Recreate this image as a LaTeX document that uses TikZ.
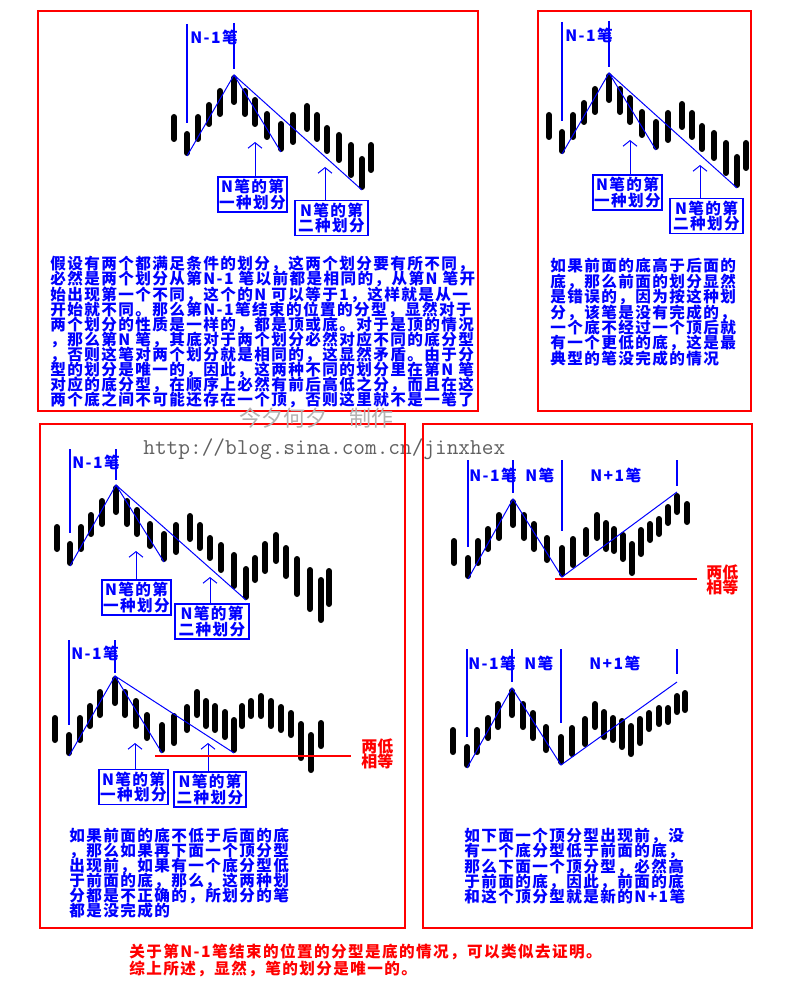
\documentclass[tikz,border=0pt]{standalone}
\usepackage{fontspec}
\usepackage{tikz}
\usetikzlibrary{arrows.meta}

\newfontfamily\cjk[LetterSpace=9.0]{Noto Sans CJK SC}
\newfontfamily\cjkplain{Noto Sans CJK SC}
\definecolor{penblue}{RGB}{0,0,255}
\definecolor{framered}{RGB}{255,0,0}
\newcommand{\tightlines}{\lineskiplimit=-20pt\relax}

\tikzset{
  redframe/.style={draw=framered, line width=0.6pt},
  kbar/.style={line width=2.9pt, line cap=round, shorten <=1.45pt, shorten >=1.45pt},
  penline/.style={draw=penblue, line width=0.5pt},
  penmark/.style={draw=penblue, line width=0.55pt},
  penlabel/.style={text=penblue, inner sep=0pt, anchor=west, font=\cjk\bfseries\fontsize{7.8pt}{7.55pt}\selectfont},
  splitbox/.style={draw=penblue, line width=0.6pt, text=penblue, align=center, inner sep=0pt,
    minimum height=17.5pt, font=\cjk\bfseries\fontsize{7.8pt}{7.6pt}\selectfont\tightlines},
  uparrow/.style={draw=penblue, line width=0.5pt, -{Straight Barb[length=2.8pt,width=7pt]}},
  prose/.style={text=penblue, align=left, anchor=north west, inner sep=0pt,
    font=\cjk\bfseries\fontsize{7.8pt}{#1}\selectfont\tightlines},
  prose/.default=7.55pt,
  levelline/.style={draw=framered, line width=0.7pt},
  redtag/.style={text=framered, align=left, anchor=west, inner sep=0pt,
    font=\cjkplain\bfseries\fontsize{8pt}{7.5pt}\selectfont\tightlines}
}

% the chart of the top row (drawn twice)
\newcommand{\firstcase}{%
  \foreach \x/\t/\b in {174/114/142, 187/131/156, 198/114/142, 209/102/127, 220/88/117, 234/75/105,
      245/88/117, 255/97/127, 267/111/140, 281/121/152, 293/112/145, 307/103/132, 317/112/142,
      327/125/154, 339/132/163, 351/142/178, 362/156/190, 371/142/173}
    \draw[kbar] (\x,\t) -- (\x,\b);
  \coordinate (low) at (187,156);
  \coordinate (top) at (234,75);
  \coordinate (end1) at (281,152);
  \coordinate (end2) at (362,190);
  \draw[penline] (low) -- (top) -- (end1);
  \draw[penline] (top) -- (end2);
  \draw[penmark] (187,24) -- (187,123);
  \draw[penmark] (234,23) -- (234,69);
  \node[penlabel] (pen) at (190,37) {N-1笔};
  \node[splitbox, minimum width=34.5pt] (s1) at (252.5,194.5) {N笔的第\\一种划分};
  \node[splitbox, minimum width=36.5pt] (s2) at (331.5,218) {N笔的第\\二种划分};
  \coordinate (t1) at (255,142);
  \coordinate (t2) at (325,167);
  \draw[uparrow] (s1.north -| t1) -- (t1);
  \draw[uparrow] (s2.north -| t2) -- (t2);
}

\begin{document}
\begin{tikzpicture}[x=0.5pt, y=-0.5pt]
\fill[white] (0,0) rectangle (798,989);
\useasboundingbox (0,0) rectangle (798,989);

% watermark
\node[anchor=west, inner sep=0pt, text=black!62, font=\ttfamily\fontsize{11.33pt}{12pt}\selectfont]
  (url) at (143,449) {http://blog.sina.com.cn/jinxhex};

% top left
\begin{scope}[name prefix=A-]
  \firstcase
\end{scope}
\node[prose] (A-text) at (50,256) {假设有两个都满足条件的划分，这两个划分要有所不同，\\
必然是两个划分从第N-1 笔以前都是相同的，从第N 笔开\\
始出现第一个不同，这个的N 可以等于1，这样就是从一\\
开始就不同。那么第N-1笔结束的位置的分型，显然对于\\
两个划分的性质是一样的，都是顶或底。对于是顶的情况\\
，那么第N 笔，其底对于两个划分必然对应不同的底分型\\
，否则这笔对两个划分就是相同的，这显然矛盾。由于分\\
型的划分是唯一的，因此，这两种不同的划分里在第N 笔\\
对应的底分型，在顺序上必然有前后高低之分，而且在这\\
两个底之间不可能还存在一个顶，否则这里就不是一笔了};
\draw[redframe] (38,11) rectangle (478,411);

% top right
\begin{scope}[shift={(375,-2)}, name prefix=B-]
  \firstcase
\end{scope}
\node[prose=7.7pt] (B-text) at (550,258) {如果前面的底高于后面的\\
底，那么前面的划分显然\\
是错误的，因为按这种划\\
分，该笔是没有完成的，\\
一个底不经过一个顶后就\\
有一个更低的底，这是最\\
典型的笔没完成的情况};
\draw[redframe] (538,11) rectangle (751,411);

% bottom left, upper chart
\foreach \x/\t/\b in {57/524/552, 70/541/566, 81/524/552, 91/512/537, 102/498/527, 116/485/515,
    127/498/527, 137/507/537, 150/521/549, 164/531/562, 176/522/555, 190/513/542, 200/522/551,
    210/535/561, 221/542/573, 234/552/589, 246/566/600, 255/555/583, 265/541/574, 276/532/564,
    286/545/579, 297/556/597, 310/567/612, 321/577/623, 329/568/607}
  \draw[kbar] (\x,\t) -- (\x,\b);
\coordinate (C1-low) at (70,566);
\coordinate (C1-top) at (116,485);
\coordinate (C1-end1) at (164,562);
\coordinate (C1-end2) at (246,600);
\draw[penline] (C1-low) -- (C1-top) -- (C1-end1);
\draw[penline] (C1-top) -- (C1-end2);
\draw[penmark] (70,449) -- (70,533);
\draw[penmark] (116,449) -- (116,480);
\node[penlabel] (C1-pen) at (72,462) {N-1笔};
\node[splitbox, minimum width=34.5pt] (C1-s1) at (136.5,597.5) {N笔的第\\一种划分};
\node[splitbox, minimum width=37pt] (C1-s2) at (212,621.5) {N笔的第\\二种划分};
\coordinate (C1-t1) at (136,551);
\coordinate (C1-t2) at (210,577);
\draw[uparrow] (C1-s1.north -| C1-t1) -- (C1-t1);
\draw[uparrow] (C1-s2.north -| C1-t2) -- (C1-t2);

% bottom left, lower chart
\foreach \x/\t/\b in {55/715/743, 69/732/756, 80/715/743, 90/703/729, 100/689/718, 115/676/706,
    125/689/718, 136/698/729, 147/712/741, 162/722/753, 174/713/746, 187/704/733, 197/689/718,
    206/698/729, 215/703/733, 225/709/740, 234/717/753, 242/703/729, 251/698/719, 261/693/719,
    271/698/729, 281/704/733, 291/710/738, 301/721/761, 311/732/773, 321/720/749}
  \draw[kbar] (\x,\t) -- (\x,\b);
\coordinate (C2-low) at (69,756);
\coordinate (C2-top) at (115,676);
\coordinate (C2-end1) at (162,753);
\coordinate (C2-end2) at (234,753);
\draw[penline] (C2-low) -- (C2-top) -- (C2-end1);
\draw[penline] (C2-top) -- (C2-end2);
\draw[penmark] (69,640) -- (69,725);
\draw[penmark] (115,640) -- (115,673);
\node[penlabel] (C2-pen) at (71,653) {N-1笔};
\node[splitbox, minimum width=34.5pt] (C2-s1) at (133.5,787) {N笔的第\\一种划分};
\node[splitbox, minimum width=36pt] (C2-s2) at (210,789.5) {N笔的第\\二种划分};
\coordinate (C2-t1) at (135,743);
\coordinate (C2-t2) at (208,743);
\draw[uparrow] (C2-s1.north -| C2-t1) -- (C2-t1);
\draw[uparrow] (C2-s2.north -| C2-t2) -- (C2-t2);
\coordinate (C2-lvl) at (155,756);
\node[redtag] (C2-same) at (361,754) {两低\\相等};
\draw[levelline] (C2-lvl) -- (C2-lvl -| 351,0);

\node[prose=7.45pt] (C-text) at (69,828) {如果前面的底不低于后面的底\\
，那么如果再下面一个顶分型\\
出现前，如果有一个底分型低\\
于前面的底，那么，这两种划\\
分都是不正确的，所划分的笔\\
都是没完成的};
\draw[redframe] (40,424) rectangle (405,928);

% bottom right, upper chart
\foreach \x/\t/\b in {454/538/566, 468/555/579, 478/538/566, 488/526/552, 499/512/541, 513/499/528,
    524/512/541, 534/521/552, 547/535/563, 562/545/577, 573/536/568, 586/527/557, 597/512/541,
    606/520/552, 614/526/554, 623/532/562, 632/541/576, 641/527/557, 650/521/543, 659/516/537,
    668/504/526, 677/493/515, 687/501/525}
  \draw[kbar] (\x,\t) -- (\x,\b);
\coordinate (D1-low) at (468,579);
\coordinate (D1-top) at (513,499);
\coordinate (D1-low2) at (562,577);
\coordinate (D1-top2) at (677,492);
\draw[penline] (D1-low) -- (D1-top) -- (D1-low2) -- (D1-top2);
\draw[penmark] (468,460) -- (468,547);
\draw[penmark] (513,460) -- (513,493);
\draw[penmark] (562,460) -- (562,531);
\draw[penmark] (677,460) -- (677,486);
\node[penlabel] (D1-pen1) at (469,475) {N-1笔};
\node[penlabel] (D1-pen2) at (525,475) {N笔};
\node[penlabel] (D1-pen3) at (590,475) {N+1笔};
\coordinate (D1-lvl) at (555,579);
\node[redtag] (D1-same) at (706,580) {两低\\相等};
\draw[levelline] (D1-lvl) -- (D1-lvl -| 697,0);

% bottom right, lower chart
\foreach \x/\t/\b in {453/727/755, 467/744/768, 477/727/755, 488/715/741, 498/701/730, 512/688/718,
    523/701/730, 533/710/741, 546/724/753, 561/734/765, 572/725/757, 585/716/747, 595/701/730,
    604/709/740, 613/715/743, 622/718/750, 631/723/757, 640/716/746, 649/710/732, 659/705/727,
    668/705/725, 677/693/715, 685/690/713}
  \draw[kbar] (\x,\t) -- (\x,\b);
\coordinate (D2-low) at (467,768);
\coordinate (D2-top) at (512,688);
\coordinate (D2-low2) at (561,765);
\coordinate (D2-top2) at (677,682);
\draw[penline] (D2-low) -- (D2-top) -- (D2-low2) -- (D2-top2);
\draw[penmark] (467,649) -- (467,737);
\draw[penmark] (512,649) -- (512,682);
\draw[penmark] (561,649) -- (561,723);
\draw[penmark] (677,649) -- (677,674);
\node[penlabel] (D2-pen1) at (468,663) {N-1笔};
\node[penlabel] (D2-pen2) at (524,663) {N笔};
\node[penlabel] (D2-pen3) at (589,663) {N+1笔};

\node[prose=7.6pt] (D-text) at (464,828) {如下面一个顶分型出现前，没\\
有一个底分型低于前面的底，\\
那么下面一个顶分型，必然高\\
于前面的底，因此，前面的底\\
和这个顶分型就是新的N+1笔};
\draw[redframe] (423,424) rectangle (752,928);

% watermark over the frames
\node[anchor=west, inner sep=0pt, text=black!30, font=\cjkplain\fontsize{11pt}{12pt}\selectfont]
  (mark) at (239,418) {今夕何夕　制作};

% conclusion
\node[prose=8.6pt, text=framered] (sum) at (129,943) {关于第N-1笔结束的位置的分型是底的情况，可以类似去证明。\\
综上所述，显然，笔的划分是唯一的。};
\end{tikzpicture}
\end{document}
